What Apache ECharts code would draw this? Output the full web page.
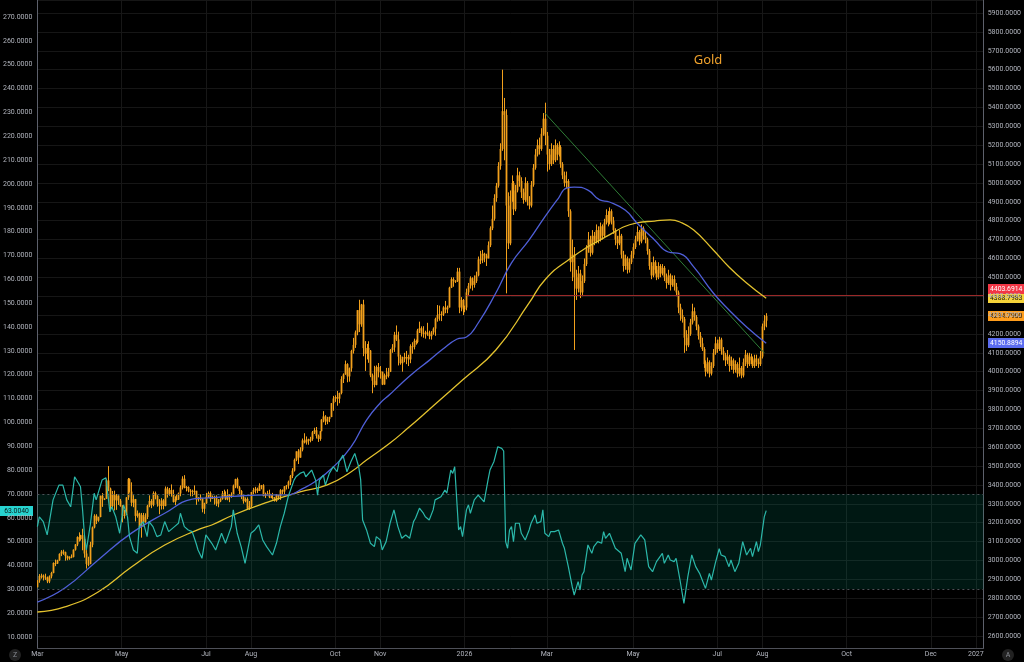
<!DOCTYPE html>
<html>
<head>
<meta charset="utf-8">
<script src="https://cdn.jsdelivr.net/npm/echarts@6/dist/echarts.min.js"></script>
<style>html,body{margin:0;padding:0;background:#000;}#c{width:1024px;height:662px;}</style>
</head>
<body>
<div id="c"></div>
<script>
// ---- categories: weekday sessions (history + projected future) ----
const firstSession = [2025, 2, 3];
const lastSession = [2027, 0, 7];
const dates = [];
for (let t = Date.UTC(...firstSession); t <= Date.UTC(...lastSession); t += 86400000) {
  const d = new Date(t), wd = d.getUTCDay();
  if (wd === 0 || wd === 6) continue;
  dates.push(d.toISOString().slice(0, 10));
}
const tickDates = ['2025-03-03','2025-05-01','2025-07-01','2025-08-01','2025-10-01','2025-11-03','2026-01-01','2026-03-02','2026-05-01','2026-07-01','2026-08-03','2026-10-01','2026-12-01','2027-01-01'];
const tickLabels = ['Mar','May','Jul','Aug','Oct','Nov','2026','Mar','May','Jul','Aug','Oct','Dec','2027'];

// ---- daily candles (open of each session = previous close) ----
const firstOpen = 2858;
const close = [
2893,2918,2920,2910,2910, 2889,2916,2934,2987,2984, 3001,3035,3047,3044,3023, 3011,3020,3019,3057,3085,
3124,3113,3134,3114,3037, 2982,2982,3083,3175,3237, 3211,3230,3343,3327,3327, 3424,3381,3288,3349,3319,
3344,3317,3288,3239,3241, 3334,3431,3365,3306,3325, 3236,3249,3178,3240,3202, 3230,3290,3315,3295,3357,
3342,3300,3289,3318,3289, 3381,3353,3373,3352,3310, 3326,3323,3355,3387,3433, 3385,3389,3370,3369,3368,
3369,3323,3333,3328,3274, 3303,3338,3357,3326,3337, 3336,3301,3313,3325,3355, 3343,3324,3347,3338,3350,
3397,3431,3387,3368,3336, 3314,3326,3274,3289,3363, 3373,3380,3368,3397,3398, 3341,3348,3355,3335,3336,
3332,3315,3348,3338,3372, 3365,3393,3397,3417,3448, 3476,3533,3578,3545,3587, 3636,3625,3641,3634,3643,
3679,3690,3660,3644,3685, 3746,3763,3736,3749,3760, 3833,3858,3866,3857,3887, 3961,3985,4040,3975,4018,
4110,4142,4208,4326,4251, 4356,4125,4095,4126,4112, 3981,3952,3930,4025,4002, 4000,3932,3980,3977,4000,
4115,4128,4195,4171,4080, 4045,4066,4078,4078,4065, 4135,4132,4164,4157,4218, 4230,4205,4205,4208,4198,
4188,4208,4228,4280,4300, 4305,4303,4340,4330,4340, 4445,4490,4480,4480,4530, 4340,4380,4330,4340,4420,
4455,4495,4460,4480,4510, 4595,4590,4625,4615,4600, 4670,4760,4810,4920,4985, 5090,5180,5380,5360,4880,
4680,4930,5000,4860,4960, 5040,5010,4950,4910,5000, 4900,4880,4990,5080,5150, 5200,5180,5260,5340,5250,
5150,5100,5180,5120,5200, 5150,5190,5100,5040,5000, 5010,4850,4580,4620,4500, 4440,4520,4420,4480,4570,
4650,4700,4630,4720,4690, 4750,4700,4770,4720,4790, 4830,4790,4850,4800,4750, 4700,4680,4720,4620,4560,
4600,4540,4580,4620,4660, 4700,4740,4690,4760,4720, 4700,4640,4560,4510,4580, 4540,4500,4560,4520,4550,
4500,4470,4510,4460,4490, 4450,4420,4340,4300,4280, 4180,4140,4200,4260,4320, 4290,4240,4190,4150,4120,
4040,4000,4050,3990,4030, 4100,4150,4120,4170,4110, 4090,4060,4080,4030,4060, 4010,4040,3990,4020,3980,
4050,4090,4040,4080,4060, 4030,4070,4050,4040,4080, 4240,4270,4294.79];
const high = [
2896,2928,2930,2926,2930, 2915,2921,2940,2990,3005, 3004,3038,3055,3057,3047, 3026,3022,3032,3059,3087,
3128,3149,3136,3168,3136, 3055,3020,3099,3180,3245, 3245,3232,3343,3357,3330, 3430,3500,3386,3368,3370,
3352,3345,3326,3293,3268, 3336,3437,3435,3414,3346, 3326,3265,3253,3252,3252, 3250,3295,3345,3325,3366,
3365,3346,3325,3330,3325, 3392,3390,3384,3403,3375, 3340,3349,3360,3398,3446, 3452,3395,3393,3378,3375,
3398,3369,3336,3350,3328, 3306,3358,3365,3366,3344, 3343,3345,3325,3330,3368, 3375,3366,3377,3352,3361,
3402,3433,3439,3394,3373, 3345,3334,3334,3315,3363, 3385,3390,3386,3409,3400, 3404,3360,3369,3375,3346,
3358,3336,3351,3351,3378, 3376,3394,3400,3423,3453, 3489,3540,3578,3590,3600, 3646,3674,3657,3645,3655,
3686,3703,3707,3667,3686, 3749,3791,3770,3761,3762, 3834,3872,3875,3898,3889, 3976,3991,4059,4045,4022,
4116,4179,4218,4326,4381, 4359,4381,4162,4147,4161, 4115,3990,4031,4033,4046, 4030,4000,3990,4020,4020,
4120,4146,4211,4245,4212, 4090,4080,4100,4110,4090, 4145,4156,4175,4170,4227, 4265,4240,4241,4217,4259,
4217,4215,4235,4286,4353, 4350,4320,4347,4375,4350, 4450,4500,4500,4485,4550, 4550,4395,4385,4350,4440,
4470,4505,4500,4510,4530, 4610,4640,4645,4630,4625, 4690,4770,4880,4940,5000, 5110,5210,5600,5450,5390,
4950,4960,5040,5010,4990, 5080,5060,5030,4970,5030, 5010,4930,5010,5100,5180, 5230,5240,5290,5370,5425,
5270,5180,5210,5200,5230, 5210,5220,5200,5110,5060, 5060,5020,4860,4700,4660, 4540,4560,4540,4510,4600,
4670,4740,4720,4750,4740, 4780,4770,4790,4780,4810, 4860,4850,4870,4860,4820, 4760,4720,4750,4730,4640,
4620,4610,4600,4640,4680, 4720,4770,4750,4780,4770, 4740,4710,4650,4580,4610, 4590,4560,4580,4570,4570,
4560,4520,4540,4520,4510, 4510,4470,4430,4360,4330, 4290,4220,4240,4280,4360, 4340,4300,4250,4210,4180,
4130,4060,4075,4060,4050, 4120,4185,4170,4185,4180, 4130,4100,4115,4090,4080, 4070,4060,4050,4075,4030,
4070,4115,4100,4100,4095, 4080,4090,4090,4070,4110, 4255,4300,4310];
const low = [
2858,2882,2904,2894,2897, 2880,2880,2905,2932,2970, 2982,2998,3023,3030,2999, 3001,3004,3012,3016,3052,
3076,3100,3105,3054,3015, 2957,2970,2980,3070,3170, 3193,3205,3229,3284,3320, 3326,3367,3260,3280,3265,
3268,3294,3285,3202,3222, 3241,3321,3360,3287,3282, 3207,3227,3171,3121,3180, 3200,3219,3282,3277,3287,
3324,3285,3245,3270,3271, 3287,3333,3343,3338,3307, 3293,3318,3321,3340,3376, 3382,3366,3361,3340,3340,
3347,3295,3312,3318,3255, 3247,3300,3331,3311,3326, 3296,3288,3282,3309,3322, 3340,3320,3319,3309,3332,
3344,3383,3381,3351,3325, 3301,3308,3268,3268,3281, 3347,3355,3358,3368,3377, 3340,3331,3344,3330,3330,
3323,3312,3311,3321,3321, 3352,3350,3376,3380,3400, 3436,3471,3526,3511,3544, 3578,3620,3614,3613,3626,
3634,3670,3646,3628,3634, 3684,3732,3718,3722,3733, 3759,3793,3840,3820,3833, 3880,3940,3984,3944,3947,
4000,4096,4126,4193,4210, 4238,4082,4004,4065,4047, 3971,3886,3917,3928,3970, 3963,3929,3931,3960,3969,
3998,4100,4105,4163,4033, 4037,4000,4050,4040,4030, 4045,4095,4118,4143,4150, 4205,4186,4180,4175,4190,
4172,4170,4196,4190,4265, 4270,4268,4295,4310,4310, 4340,4443,4450,4470,4475, 4310,4320,4300,4315,4325,
4400,4440,4430,4445,4470, 4505,4570,4575,4580,4560, 4600,4660,4750,4800,4900, 4975,5070,5170,5120,4415,
4650,4670,4900,4830,4850, 4950,4980,4920,4890,4900, 4880,4860,4870,4980,5070, 5140,5150,5170,5250,5200,
5060,5070,5090,5100,5110, 5120,5140,5080,5020,4980, 4970,4820,4530,4480,4115, 4380,4420,4390,4400,4470,
4560,4630,4610,4620,4670, 4680,4680,4690,4700,4710, 4780,4770,4780,4780,4730, 4670,4650,4670,4600,4530,
4540,4520,4525,4570,4600, 4650,4690,4670,4680,4700, 4680,4620,4540,4490,4500, 4520,4485,4490,4500,4510,
4480,4440,4460,4430,4450, 4430,4400,4310,4270,4260, 4100,4110,4130,4190,4250, 4270,4220,4170,4130,4110,
4020,3975,3990,3970,3980, 4020,4090,4100,4110,4090, 4060,4030,4040,4000,4010, 3990,3995,3970,3975,3965,
3970,4030,4020,4030,4040, 4020,4020,4030,4020,4030, 4070,4220,4235];

// ---- moving averages: [session index, value] ----
const maFast = [[0,2780],[14,2854],[31,3003],[48,3145],[65,3250],[79,3325],[84,3330],[100,3340],[118,3347],[128,3347],
[134,3373],[143,3426],[151,3495],[160,3600],[168,3744],[175,3834],[180,3880],[185,3930],[192,3995],[200,4060],
[207,4120],[214,4172],[219,4184],[225,4258],[234,4417],[242,4576],[251,4698],[259,4820],[266,4920],[270,4973],
[274,4978],[281,4962],[287,4910],[292,4899],[300,4856],[306,4788],[315,4698],[322,4634],[328,4625],[335,4555],
[345,4417],[353,4327],[362,4237],[372,4150.8894]];
const maSlow = [[0,2727],[14,2754],[31,2833],[48,2965],[65,3082],[83,3167],[89,3188],[100,3241],[118,3310],[134,3363],
[148,3400],[160,3469],[168,3532],[180,3622],[189,3700],[200,3800],[217,3956],[234,4115],[251,4364],[259,4486],
[271,4592],[290,4714],[306,4788],[315,4798],[323,4804],[328,4793],[335,4750],[345,4645],[353,4555],[362,4470],
[372,4388.7983]];

// ---- RSI: [session index, value] ----
const rsi = [[0,56.3],[1,60.4],[3,58.4],[5,52.8],[8,67.5],[11,73.7],[13,73.7],[15,67.5],[17,64.6],[19,77.2],
[21,74.5],[22,73],[23,64],[24,53],[25,46.5],[26,47],[27,57],[29,70.3],[30,67.5],[33,75.8],[35,76.8],[37,62.5],
[38,64.6],[40,60.4],[42,53.5],[44,65.4],[46,60.4],[47,52.1],[49,46.5],[51,45.1],[52,56.3],[54,58.4],[56,52.1],
[57,58.4],[59,56.3],[61,52.1],[63,52.8],[65,58.4],[67,54.2],[68,53.5],[70,56.3],[72,57.7],[73,61.9],[75,56.3],
[77,54.9],[79,54.2],[81,49.3],[82,46.5],[84,43],[86,52.8],[89,49.3],[91,46.5],[94,53.5],[96,49.3],[99,56.3],
[100,63.3],[102,53.5],[104,47.9],[106,40.9],[109,53.5],[111,54.9],[113,57],[115,50.7],[117,47.9],[120,44.4],
[122,49.3],[124,56.3],[126,61.9],[128,68.8],[131,75.8],[132,77.2],[134,78.6],[136,79.3],[137,77.2],[140,80],
[142,75.8],[143,69.5],[144,75.8],[146,77.9],[147,73.7],[149,78.6],[151,81.4],[153,79.3],[154,83.5],[156,86.3],
[158,79.3],[160,83.5],[162,87],[164,81.4],[165,76],[166,59.1],[168,54.9],[170,49.3],[172,47.9],[173,52.1],
[175,50.7],[176,46.5],[178,50],[180,57.7],[182,63.3],[184,56.3],[186,51.4],[188,52.8],[190,51.4],[192,58.4],
[193,59.8],[195,64],[197,61.9],[198,60.4],[200,59.1],[202,63.3],[203,67.5],[206,68.8],[208,71.6],[209,70.3],
[211,80],[212,78.6],[213,81.4],[214,81],[215,54.9],[216,56.3],[217,52.1],[219,63.3],[220,65.4],[221,61.9],
[223,67.5],[225,69.5],[226,68.8],[228,66.7],[230,75.8],[231,80],[233,83.5],[235,89.8],[237,89.1],[238,88],
[239,50],[240,47.2],[241,54.9],[242,56.3],[243,50],[244,57.7],[246,57.7],[247,53.5],[249,50.7],[251,54.9],
[252,57.7],[254,61.2],[255,57.7],[257,58.4],[258,63.3],[259,53.5],[261,52.1],[262,54.2],[264,54.2],[266,54.9],
[268,49.3],[269,47.2],[271,39.5],[273,31.1],[274,27.6],[276,33.2],[277,29.7],[278,36],[279,37.4],[281,48.6],
[283,45.1],[284,47.9],[286,50],[288,49.3],[289,54.2],[290,51.4],[292,53.5],[293,53.5],[295,47.2],[296,47.2],
[298,45.1],[300,37.4],[301,43],[303,38.1],[305,49.3],[306,50],[308,52.8],[310,50.7],[312,39.5],[314,37.4],
[316,41.6],[317,40.9],[319,45.1],[320,40.9],[322,44.4],[323,42.3],[325,41.6],[326,43],[328,33.9],[330,24.1],
[332,35.3],[334,44.4],[336,39.5],[338,36.7],[339,37.4],[341,30.4],[343,36.7],[344,33.9],[346,40.9],[348,47],
[349,44.4],[351,43.7],[353,39.5],[354,42.3],[356,37.4],[358,40.9],[360,50],[362,44.4],[364,47.2],[365,43.7],
[367,50],[368,45.8],[369,48.6],[371,60.4],[372,63.004]];
const rsiBand = [30, 70];

// ---- drawings ----
const resistance = 4403.6914;
const resistanceStart = 219;
const trendLine = [[259, 5370], [371, 4100]];
const lastClose = 4294.79, rsiLast = 63.004;
const maSlowLast = 4388.7983, maFastLast = 4150.8894;

// ---- build ----
const tickMap = new Map(tickDates.map((d, i) => [d, tickLabels[i]]));
const candles = close.map((c, i) => [i, i === 0 ? firstOpen : close[i - 1], c, low[i], high[i]]);
const toPts = arr => arr.map(([i, v]) => [dates[i], v]);
const FONT = 'Roboto, "Liberation Sans", sans-serif';
const axisTxt = '#b2b5be';
const GOLD = '#f2a01c';

function renderCandle(params, api) {
  const i = api.value(0);
  const pO = api.coord([i, api.value(1)]);
  const pC = api.coord([i, api.value(2)]);
  const pL = api.coord([i, api.value(3)]);
  const pH = api.coord([i, api.value(4)]);
  const x = Math.round(pO[0]) + 0.5;
  const top = Math.min(pO[1], pC[1]);
  const h = Math.max(1, Math.abs(pO[1] - pC[1]));
  return { type: 'group', children: [
    { type: 'line', shape: { x1: x, y1: pH[1], x2: x, y2: pL[1] }, style: { stroke: GOLD, lineWidth: 1 } },
    { type: 'rect', shape: { x: x - 0.9, y: top, width: 1.8, height: h }, style: { fill: GOLD } }
  ]};
}

const chart = echarts.init(document.getElementById('c'));
chart.setOption({
  backgroundColor: '#000000',
  animation: false,
  grid: { left: 34, right: 36, top: 0, bottom: 14 },
  xAxis: {
    type: 'category', data: dates, boundaryGap: false,
    axisLine: { show: true, lineStyle: { color: '#4e5058' } },
    axisTick: { show: false },
    axisLabel: { interval: (i, v) => tickMap.has(v), formatter: v => tickMap.get(v) || '',
      color: axisTxt, fontSize: 7, margin: 3, fontFamily: FONT },
    splitLine: { show: true, lineStyle: { color: '#171717', width: 1 } }
  },
  yAxis: [
    { type: 'value', position: 'left', min: 5.39, max: 277.13, splitNumber: 27,
      axisLine: { show: true, lineStyle: { color: '#5d606b' } }, axisTick: { show: false },
      splitLine: { show: false },
      axisLabel: { color: axisTxt, fontSize: 7, margin: 5, fontFamily: FONT,
        formatter: v => Math.abs(v / 10 - Math.round(v / 10)) < 1e-6 ? v.toFixed(4) : '' } },
    { type: 'value', position: 'right', min: 2536.4, max: 5968.9, splitNumber: 34,
      axisLine: { show: true, lineStyle: { color: '#5d606b' } }, axisTick: { show: false },
      splitLine: { show: true, lineStyle: { color: '#161616', width: 1 } },
      axisLabel: { color: axisTxt, fontSize: 7, margin: 4, fontFamily: FONT,
        formatter: v => Math.abs(v / 100 - Math.round(v / 100)) < 1e-6 ? v.toFixed(4) : '' } }
  ],
  series: [
    { type: 'custom', name: 'Gold', xAxisIndex: 0, yAxisIndex: 1, data: candles,
      encode: { x: 0, y: [1, 2, 3, 4] }, renderItem: renderCandle, clip: true, silent: true, z: 2 },
    { type: 'line', name: 'level', yAxisIndex: 1, data: toPts([[resistanceStart, resistance], [dates.length - 1, resistance]]),
      symbol: 'none', lineStyle: { color: '#9e2b2b', width: 1 }, z: 3, silent: true },
    { type: 'line', name: 'trend', yAxisIndex: 1, data: toPts(trendLine),
      symbol: 'none', lineStyle: { color: '#2f7d36', width: 1 }, z: 3, silent: true },
    { type: 'line', name: 'MA slow', yAxisIndex: 1, data: toPts(maSlow), smooth: 0.5,
      symbol: 'none', lineStyle: { color: '#e3c22e', width: 1.3 }, z: 4, silent: true },
    { type: 'line', name: 'MA fast', yAxisIndex: 1, data: toPts(maFast), smooth: 0.5,
      symbol: 'none', lineStyle: { color: '#4f5fd8', width: 1.3 }, z: 4, silent: true },
    { type: 'line', name: 'RSI', yAxisIndex: 0, data: toPts(rsi), silent: true,
      symbol: 'none', lineStyle: { color: '#2bb8aa', width: 1.2 }, z: 5,
      markArea: { silent: true, itemStyle: { color: 'rgba(0,150,120,0.16)' },
        data: [[{ yAxis: rsiBand[0] }, { yAxis: rsiBand[1] }]] },
      markLine: { silent: true, symbol: ['none', 'none'], label: { show: false },
        lineStyle: { color: '#4f5158', type: [2, 3], width: 1 },
        data: [{ yAxis: rsiBand[1] }, { yAxis: rsiBand[0] }] } }
  ]
});

function tag(axisIndex, value, text, bg, fg, side, maxY) {
  let y = chart.convertToPixel({ yAxisIndex: axisIndex }, value);
  if (maxY !== undefined) y = Math.min(y, maxY);
  const w = side === 'right' ? 36 : 33;
  const x = side === 'right' ? 988 : 0;
  return { type: 'group', x: x, y: Math.round(y) - 5, z: 100, children: [
    { type: 'rect', shape: { x: 0, y: 0, width: w, height: 10 }, style: { fill: bg } },
    { type: 'text', x: side === 'right' ? 2 : w / 2, y: 5.5,
      style: { text: text, fill: fg, font: '6.8px ' + FONT, align: side === 'right' ? 'left' : 'center', verticalAlign: 'middle' } }
  ]};
}
const ySlow = chart.convertToPixel({ yAxisIndex: 1 }, maSlowLast);
chart.setOption({
  graphic: [
    { type: 'text', x: 708, y: 60, z: 100,
      style: { text: 'Gold', fill: '#f0a22c', font: '13px "Noto Sans", sans-serif', align: 'center', verticalAlign: 'middle' } },
    tag(1, maSlowLast, maSlowLast.toFixed(4), '#f6d43a', '#111', 'right'),
    tag(1, resistance, resistance.toFixed(4), '#f23645', '#fff', 'right', ySlow - 9.5),
    tag(1, lastClose, lastClose.toFixed(4), '#ff9d1c', '#111', 'right'),
    tag(1, maFastLast, maFastLast.toFixed(4), '#5b6cf0', '#fff', 'right'),
    tag(0, rsiLast, rsiLast.toFixed(4), '#27d3d0', '#0a1a1a', 'left'),
    { type: 'circle', shape: { cx: 15, cy: 655, r: 6 }, style: { fill: '#222' }, z: 100 },
    { type: 'text', x: 15, y: 655, z: 101, style: { text: 'Z', fill: '#8a8d94', font: '7px ' + FONT, align: 'center', verticalAlign: 'middle' } },
    { type: 'circle', shape: { cx: 1008, cy: 655, r: 6 }, style: { fill: '#222' }, z: 100 },
    { type: 'text', x: 1008, y: 655, z: 101, style: { text: 'A', fill: '#8a8d94', font: '7px ' + FONT, align: 'center', verticalAlign: 'middle' } }
  ]
});
</script>
</body>
</html>
